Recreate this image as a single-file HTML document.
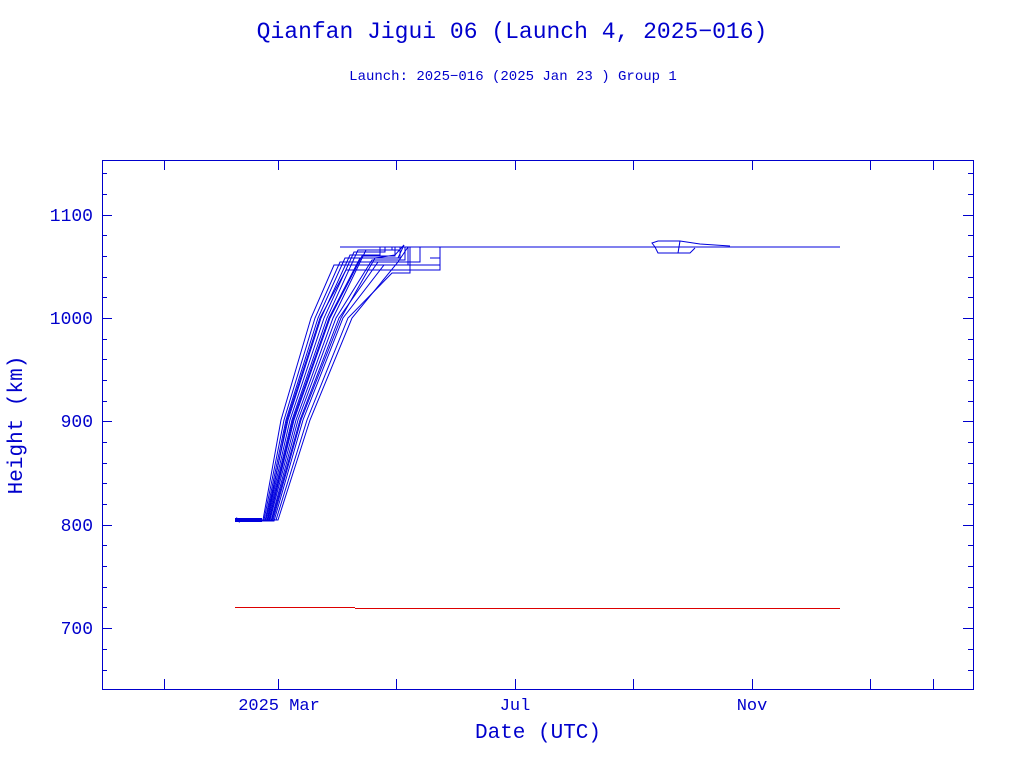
<!DOCTYPE html>
<html><head><meta charset="utf-8"><style>
body{margin:0;background:#fff;}
svg text{font-family:"Liberation Mono","DejaVu Sans Mono",monospace;fill:#0000cc;}
</style></head><body>
<svg width="1024" height="768" xmlns="http://www.w3.org/2000/svg">
<text x="512" y="38" font-size="23" text-anchor="middle">Qianfan Jigui 06 (Launch 4, 2025−016)</text>
<text x="513" y="80" font-size="14" text-anchor="middle">Launch: 2025−016  (2025 Jan 23 )  Group 1</text>
<rect x="102.5" y="160.5" width="871" height="529" fill="none" stroke="#0000cc"/>
<g stroke="#0000cc">
<path d="M102,215.5h10M973,215.5h-10M102,318.5h10M973,318.5h-10M102,421.5h10M973,421.5h-10M102,525.5h10M973,525.5h-10M102,628.5h10M973,628.5h-10
M102,173.5h5M973,173.5h-5M102,194.5h5M973,194.5h-5M102,235.5h5M973,235.5h-5M102,256.5h5M973,256.5h-5M102,277.5h5M973,277.5h-5M102,297.5h5M973,297.5h-5
M102,339.5h5M973,339.5h-5M102,359.5h5M973,359.5h-5M102,380.5h5M973,380.5h-5M102,401.5h5M973,401.5h-5
M102,442.5h5M973,442.5h-5M102,463.5h5M973,463.5h-5M102,483.5h5M973,483.5h-5M102,504.5h5M973,504.5h-5
M102,545.5h5M973,545.5h-5M102,566.5h5M973,566.5h-5M102,587.5h5M973,587.5h-5M102,607.5h5M973,607.5h-5
M102,649.5h5M973,649.5h-5M102,670.5h5M973,670.5h-5
M164.5,689v-10M164.5,160v10M278.5,689v-10M278.5,160v10M396.5,689v-10M396.5,160v10M515.5,689v-10M515.5,160v10M633.5,689v-10M633.5,160v10M752.5,689v-10M752.5,160v10M870.5,689v-10M870.5,160v10M933.5,689v-10M933.5,160v10"/>
</g>
<g font-size="18" text-anchor="end">
<text x="93" y="221">1100</text><text x="93" y="324">1000</text><text x="93" y="427">900</text><text x="93" y="531">800</text><text x="93" y="634">700</text>
</g>
<g font-size="17" text-anchor="middle">
<text x="279" y="710">2025 Mar</text><text x="515" y="710">Jul</text><text x="752" y="710">Nov</text>
<text x="538" y="738" font-size="21">Date (UTC)</text>
</g>
<text transform="translate(22,425) rotate(-90)" font-size="21" text-anchor="middle">Height (km)</text>
<line x1="235" y1="607.5" x2="355" y2="607.5" stroke="#dd0000"/>
<line x1="355" y1="608.5" x2="840" y2="608.5" stroke="#dd0000"/>
<g fill="none" stroke="#0000dd" stroke-width="1">
<path d="M237,520H263L281,420L311,318L334,265H440V247"/>
<path d="M237,520H264L284,420L315,318L340,262H420V247"/>
<path d="M237,521H265L286,420L318,318L345,258H400V247"/>
<path d="M237,520H266L288,420L321,318L350,255H380V247"/>
<path d="M237,521H267L290,420L324,318L354,252H385V247"/>
<path d="M237,520H268L292,420L327,318L358,250H392V247"/>
<path d="M237,521H269L294,420L330,318L362,256H395V247"/>
<path d="M237,520H270L296,420L333,318L366,250H400V247"/>
<path d="M237,521H271L298,420L336,318L372,260H405V247"/>
<path d="M237,520H272L300,420L339,318L378,262H410V247"/>
<path d="M237,521H274L303,420L343,318L384,265H408V247"/>
<path d="M237,520H276L307,420L348,318L392,273H410V247"/>
<path d="M237,520H278L310,420L352,318L398,262L408,247"/>
<path d="M237,521H267L287,420L320,318L346,270H440V258H430"/>
<path d="M237,520H273L301,420L341,318L375,258L395,255L404,245"/>
<path d="M237,520H269L293,420L329,318L360,258H398L404,245"/>
<path d="M340,247H840M655,247L652,243L658,241H680L700,244L730,246M655,247L658,253H690L695,248M680,241L678,253"/>
<path d="M235,519H262M235,521H262M236,518L240,522" stroke-width="2"/>
</g>
</svg>
</body></html>
